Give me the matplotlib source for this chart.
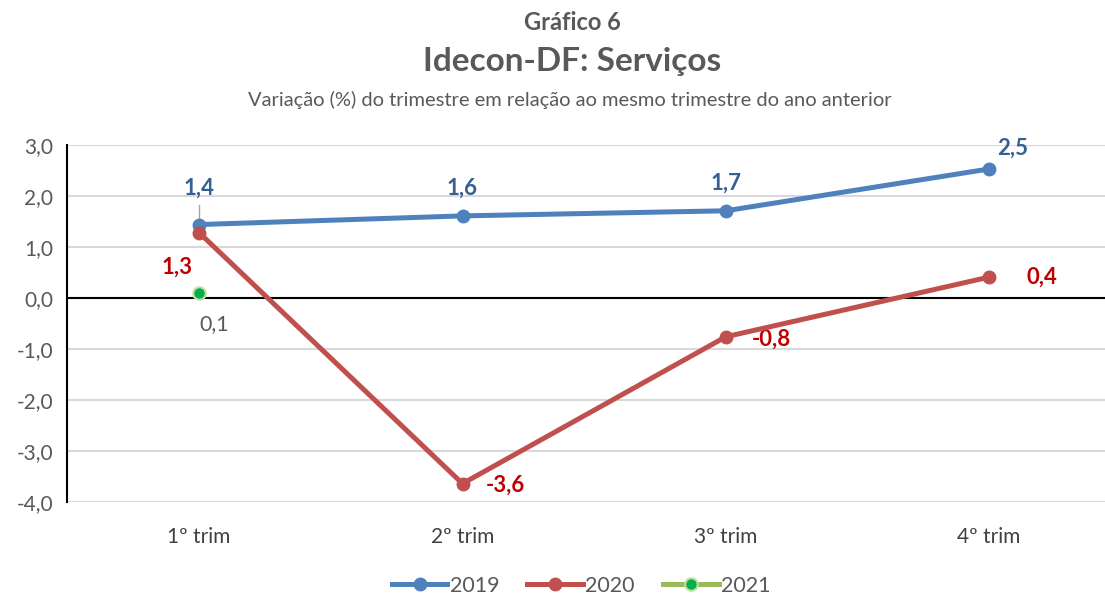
import matplotlib
matplotlib.use("Agg")
from matplotlib import pyplot as plt
from matplotlib.lines import Line2D

# data
categories = ["1º trim", "2º trim", "3º trim", "4º trim"]
values2019 = [1.44, 1.61, 1.71, 2.53]
values2020 = [1.28, -3.64, -0.76, 0.41]
values2021 = [0.09]
yticks = [-4, -3, -2, -1, 0, 1, 2, 3]

blue = "#4F81BD"
blueText = "#376092"
red = "#C0504D"
redText = "#C00000"
green = "#9BBB59"
greenMarker = "#00B050"
gray = "#595959"

plt.rcParams["font.family"] = ["Lato", "DejaVu Sans"]


def fmt(v):
    return f"{v:.1f}".replace(".", ",")


fig = plt.figure(figsize=(11.05, 5.96), dpi=100)
ax = fig.add_axes([67 / 1105, 1 - 502 / 596, 1038 / 1105, 357 / 596])
x = list(range(len(categories)))

ax.plot(x, values2019, color=blue, lw=3.6, marker="o", ms=9, zorder=4)
ax.plot(x, values2020, color=red, lw=3.6, marker="o", ms=9, zorder=5)
ax.plot(x[: len(values2021)], values2021, color=green, lw=3.6, marker="o", ms=9,
        mfc=greenMarker, mec="#C4E0A0", mew=1.5, zorder=6)

ax.set_xlim(-0.502, 3.44)
ax.set_ylim(-4, 3)
ax.set_yticks(yticks)
ax.set_yticklabels([fmt(v) for v in yticks], fontsize=15, color=gray)
ax.set_xticks(x)
ax.set_xticklabels(categories, fontsize=15, color="#404040")
ax.tick_params(length=0)
ax.tick_params(axis="x", pad=18)
ax.tick_params(axis="y", pad=10)
ax.grid(axis="y", color="#D9D9D9", lw=1.5)
ax.set_axisbelow(True)
for side in ["top", "right", "bottom"]:
    ax.spines[side].set_visible(False)
ax.spines["left"].set_color("black")
ax.spines["left"].set_linewidth(1.5)
ax.axhline(0, color="black", lw=1.5, zorder=2)

# data labels (offsets in points)
offs2019 = [(0, 26), (0, 20), (0, 20), (17, 15)]
for i, v in enumerate(values2019):
    ax.annotate(fmt(v), (i, v), xytext=offs2019[i], textcoords="offset points",
                ha="center", va="center", fontsize=16, fontweight="bold",
                color=blueText)
ax.plot([0, 0], [1.82, 1.53], color="#A6A6A6", lw=1, zorder=3)

offs2020 = [(-16, -25), (31, -1), (33, -2), (38, 0)]
for i, v in enumerate(values2020):
    ax.annotate(fmt(v), (i, v), xytext=offs2020[i], textcoords="offset points",
                ha="center", va="center", fontsize=16, fontweight="bold",
                color=redText)

ax.annotate(fmt(values2021[0]), (0, values2021[0]), xytext=(11, -22),
            textcoords="offset points", ha="center", va="center",
            fontsize=15.5, color=gray)

fig.text(572 / 1105, 1 - 22 / 596, "Gráfico 6", ha="center", va="center",
         fontsize=17, fontweight="bold", color=gray)
fig.text(572 / 1105, 1 - 62 / 596, "Idecon-DF: Serviços", ha="center",
         va="center", fontsize=24, fontweight="bold", color=gray)
fig.text(570 / 1105, 1 - 100 / 596,
         "Variação (%) do trimestre em relação ao mesmo trimestre do ano anterior",
         ha="center", va="center", fontsize=14.5, color=gray)

handles = [
    Line2D([], [], color=blue, lw=3.6, marker="o", ms=9),
    Line2D([], [], color=red, lw=3.6, marker="o", ms=9),
    Line2D([], [], color=green, lw=3.6, marker="o", ms=9, mfc=greenMarker,
           mec="#C4E0A0", mew=1.5),
]
fig.legend(handles, ["2019", "2020", "2021"], loc="center",
           bbox_to_anchor=(581 / 1105, 1 - 586 / 596), ncol=3, frameon=False,
           fontsize=15.5, labelcolor=gray, handlelength=2.6, columnspacing=1.3,
           handletextpad=0.1)

fig.savefig("out.png", dpi=100)
